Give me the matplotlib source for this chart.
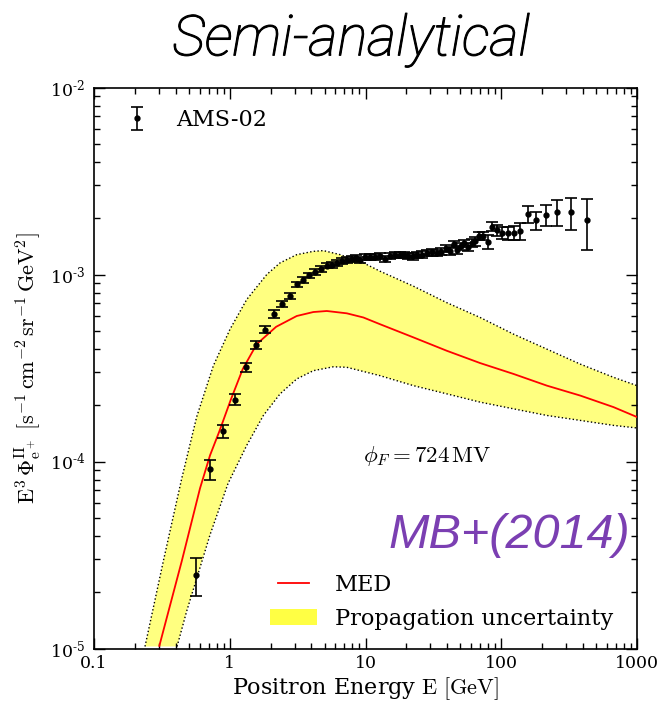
import numpy as np
import matplotlib
matplotlib.use("Agg")
import matplotlib.pyplot as plt
import matplotlib.patheffects as pe
from matplotlib.patches import Patch
from matplotlib.legend_handler import HandlerLine2D
from matplotlib.ticker import LogLocator, NullFormatter, FuncFormatter

plt.rcParams["font.family"] = "serif"
plt.rcParams["font.serif"] = ["DejaVu Serif"]
plt.rcParams["mathtext.fontset"] = "cm"

# AMS-02 positron flux (E^3 * flux)
energy = [0.565, 0.716, 0.888, 1.094, 1.312, 1.562, 1.829, 2.132, 2.442, 2.782,
          3.149, 3.486, 3.861, 4.273, 4.708, 5.186, 5.645, 6.176, 6.72, 7.32,
          7.96, 8.53, 9.13, 9.93, 10.82, 11.77, 12.81, 13.95, 15.18, 16.52,
          17.99, 19.26, 20.71, 22.32, 23.88, 26.0, 28.3, 30.8, 33.5, 36.1,
          38.9, 42.0, 44.7, 47.3, 50.2, 53.5, 56.8, 60.7, 64.2, 69.1,
          73.6, 79.7, 85.7, 92.8, 101.5, 112.1, 123.9, 138.5, 157.9, 181.7,
          214.2, 259.0, 324.7, 427.4]
flux = [2.48e-5, 9.07e-5, 1.449e-4, 2.138e-4, 3.19e-4, 4.205e-4, 5.08e-4, 6.18e-4, 6.95e-4, 7.70e-4,
        8.85e-4, 9.37e-4, 9.88e-4, 1.034e-3, 1.072e-3, 1.117e-3, 1.130e-3, 1.154e-3, 1.183e-3, 1.197e-3,
        1.209e-3, 1.224e-3, 1.202e-3, 1.236e-3, 1.236e-3, 1.236e-3, 1.251e-3, 1.216e-3, 1.251e-3, 1.266e-3,
        1.266e-3, 1.277e-3, 1.251e-3, 1.251e-3, 1.277e-3, 1.277e-3, 1.304e-3, 1.314e-3, 1.304e-3, 1.325e-3,
        1.375e-3, 1.337e-3, 1.453e-3, 1.358e-3, 1.414e-3, 1.466e-3, 1.409e-3, 1.480e-3, 1.503e-3, 1.606e-3,
        1.611e-3, 1.497e-3, 1.800e-3, 1.720e-3, 1.672e-3, 1.658e-3, 1.672e-3, 1.703e-3, 2.103e-3, 1.950e-3,
        2.093e-3, 2.163e-3, 2.150e-3, 1.945e-3]
flux_err = [0.58e-5, 1.1e-5, 1.2e-5, 1.45e-5, 1.9e-5, 2.2e-5, 2.3e-5, 3.0e-5, 2.6e-5, 2.8e-5,
            3.2e-5, 3.4e-5, 3.6e-5, 3.7e-5, 3.8e-5, 4.0e-5, 4.1e-5, 4.2e-5, 4.2e-5, 4.3e-5,
            4.3e-5, 4.4e-5, 4.4e-5, 4.5e-5, 4.5e-5, 4.5e-5, 4.6e-5, 4.5e-5, 4.6e-5, 4.7e-5,
            4.7e-5, 4.8e-5, 4.8e-5, 4.9e-5, 5.0e-5, 5.1e-5, 5.3e-5, 5.4e-5, 5.5e-5, 5.7e-5,
            6.0e-5, 6.1e-5, 6.5e-5, 6.5e-5, 6.8e-5, 7.0e-5, 7.1e-5, 7.4e-5, 7.6e-5, 8.0e-5,
            8.3e-5, 1.33e-4, 1.0e-4, 1.2e-4, 1.15e-4, 1.26e-4, 1.5e-4, 1.75e-4, 2.1e-4, 2.2e-4,
            2.65e-4, 3.4e-4, 4.3e-4, 5.9e-4]

# MED propagation model
med_energy = [0.303, 0.443, 0.604, 0.716, 0.838, 1.017, 1.247, 1.581, 2.194, 3.117, 4.13,
              5.186, 7.28, 9.65, 12.81, 22.54, 39.7, 69.9, 123, 216.8, 381, 671, 1000]
med_flux = [1.034e-5, 2.93e-5, 7.19e-5, 1.080e-4, 1.449e-4, 2.137e-4, 3.124e-4, 4.243e-4,
            5.25e-4, 6.00e-4, 6.30e-4, 6.38e-4, 6.20e-4, 5.89e-4, 5.42e-4, 4.61e-4, 3.91e-4,
            3.36e-4, 2.94e-4, 2.545e-4, 2.253e-4, 1.954e-4, 1.729e-4]

# Propagation uncertainty envelope
upper_energy = [0.2375, 0.324, 0.443, 0.571, 0.757, 1.005, 1.335, 1.874, 2.348, 3.117, 4.13,
                4.90, 6.50, 9.65, 12.81, 22.54, 39.7, 69.9, 123, 216.8, 381, 671, 1000]
upper_flux = [1.025e-5, 2.93e-5, 8.12e-5, 1.736e-4, 3.25e-4, 5.10e-4, 7.36e-4, 1.0e-3, 1.154e-3,
              1.277e-3, 1.330e-3, 1.342e-3, 1.277e-3, 1.154e-3, 1.041e-3, 8.66e-4, 7.07e-4,
              5.89e-4, 4.80e-4, 3.99e-4, 3.32e-4, 2.82e-4, 2.545e-4]
lower_energy = [0.409, 0.482, 0.716, 0.972, 1.335, 1.769, 2.348, 3.117, 4.13, 5.80, 7.28, 12.81,
                22.54, 39.7, 69.9, 123, 216.8, 381, 671, 1000]
lower_flux = [1.025e-5, 1.586e-5, 4.06e-5, 7.64e-5, 1.221e-4, 1.763e-4, 2.30e-4, 2.764e-4,
              3.06e-4, 3.21e-4, 3.19e-4, 2.877e-4, 2.545e-4, 2.300e-4, 2.077e-4, 1.913e-4,
              1.763e-4, 1.659e-4, 1.560e-4, 1.511e-4]

x_ticks = [0.1, 1, 10, 100, 1000]
x_ticklabels = ["0.1", "1", "10", "100", "1000"]

FS = 16
HYPHEN = "\u2010"


def decade_label(value, pos):
    return "$\\mathdefault{10^{" + HYPHEN + "%d}}$" % round(-np.log10(value))


fig = plt.figure(figsize=(6.59, 7.03), dpi=100)
ax = fig.add_axes([94 / 659, 54.5 / 703, 543 / 659, 561 / 703])
ax.set_xscale("log")
ax.set_yscale("log")

band_x = np.concatenate([upper_energy, lower_energy[::-1]])
band_y = np.concatenate([upper_flux, lower_flux[::-1]])
ax.fill(band_x, band_y, color="#ffff80", lw=0, zorder=1)
ax.plot(upper_energy, upper_flux, color="black", ls=":", lw=1.0, zorder=2)
ax.plot(lower_energy, lower_flux, color="black", ls=":", lw=1.0, zorder=2)
med_line, = ax.plot(med_energy, med_flux, color="red", lw=1.3, zorder=3)

eb = ax.errorbar(energy, flux, yerr=flux_err, fmt="o", color="black", ms=3.5,
                 elinewidth=1.2, capsize=4.5, capthick=1.2, zorder=4)

ax.set_xlim(0.1, 1000)
ax.set_ylim(1e-5, 1e-2)
ax.set_xticks(x_ticks)
ax.set_xticklabels(x_ticklabels)
ax.xaxis.set_minor_locator(LogLocator(base=10, subs=np.arange(2, 10)))
ax.xaxis.set_minor_formatter(NullFormatter())
ax.yaxis.set_major_locator(LogLocator(base=10))
ax.yaxis.set_major_formatter(FuncFormatter(decade_label))
ax.yaxis.set_minor_locator(LogLocator(base=10, subs=np.arange(2, 10)))
ax.yaxis.set_minor_formatter(NullFormatter())
ax.tick_params(which="both", direction="in", top=True, right=True)
ax.tick_params(axis="x", labelsize=12.5, pad=5)
ax.tick_params(axis="y", labelsize=12.5, pad=6.5)
ax.tick_params(which="major", length=8, width=1)
ax.tick_params(which="minor", length=4, width=1)
for s in ax.spines.values():
    s.set_linewidth(1.2)

ax.set_xlabel(r"Positron Energy $\mathrm{E\ [GeV]}$", fontsize=FS, labelpad=2)
ax.set_ylabel(r"$\mathrm{E^3\,\Phi^{II}_{e^+}\ [s^{-1}\,cm^{-2}\,sr^{-1}\,GeV^2]}$",
              fontsize=FS, labelpad=4)

leg1 = ax.legend([eb], ["AMS-02"], loc="upper left", frameon=False, fontsize=FS,
                 numpoints=1, handlelength=1.5, handletextpad=1.0,
                 bbox_to_anchor=(0.012, 0.997))
ax.add_artist(leg1)
prop_patch = Patch(facecolor="#ffff44", edgecolor="none")
ax.legend([med_line, prop_patch], ["MED", "Propagation uncertainty"], loc="lower right",
          frameon=False, fontsize=16.2, handlelength=2.1, handletextpad=0.8,
          labelspacing=0.55, bbox_to_anchor=(0.994, -0.003),
          handler_map={med_line: HandlerLine2D(numpoints=2, marker_pad=0.35)})

ax.text(0.495, 0.344, r"$\phi_F = 724\,\mathrm{MV}$", transform=ax.transAxes,
        fontsize=16.5, va="center", ha="left")
ax.text(0.987, 0.202, "MB+(2014)", transform=ax.transAxes, fontsize=35,
        family="Liberation Sans", style="italic", color="#7b3fb2",
        va="center", ha="right")

fig.text(0.533, 0.943, "Semi-analytical", fontsize=40.5, family="Roboto", weight="light",
         style="italic", ha="center", va="center",
         path_effects=[pe.withStroke(linewidth=0.8, foreground="black")])

fig.savefig("out.png", dpi=100)
